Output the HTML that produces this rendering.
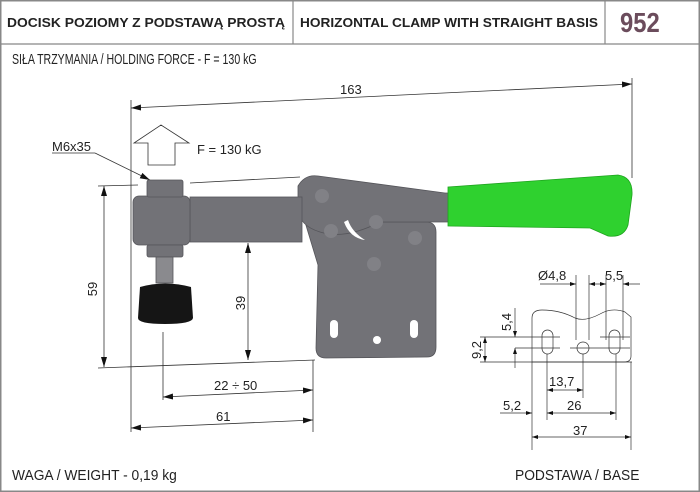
<!DOCTYPE html>
<html><head><meta charset="utf-8"><style>
html,body{margin:0;padding:0;background:#fff}
svg{display:block}
text{font-family:"Liberation Sans",sans-serif;fill:#222}
</style></head><body>
<svg width="700" height="492" viewBox="0 0 700 492" xmlns="http://www.w3.org/2000/svg">
<defs>
<marker id="a" viewBox="0 0 10 6" refX="10" refY="3" markerWidth="10" markerHeight="6" orient="auto-start-reverse" markerUnits="userSpaceOnUse"><path d="M0,0L10,3L0,6z" fill="#111"/></marker>
<marker id="s" viewBox="0 0 6 4" refX="6" refY="2" markerWidth="6" markerHeight="4" orient="auto-start-reverse" markerUnits="userSpaceOnUse"><path d="M0,0L6,2L0,4z" fill="#111"/></marker>
</defs>
<rect x="0.75" y="0.75" width="698.5" height="490.5" fill="#fff" stroke="#888" stroke-width="1.5"/>
<line x1="0" y1="44" x2="700" y2="44" stroke="#888" stroke-width="1.2"/>
<line x1="293" y1="0" x2="293" y2="44" stroke="#888" stroke-width="1.2"/>
<line x1="605" y1="0" x2="605" y2="44" stroke="#888" stroke-width="1.2"/>
<text x="7" y="27" font-size="13" font-weight="bold" textLength="278" lengthAdjust="spacingAndGlyphs">DOCISK POZIOMY Z PODSTAWĄ PROSTĄ</text>
<text x="300" y="27" font-size="13" font-weight="bold" textLength="298" lengthAdjust="spacingAndGlyphs">HORIZONTAL CLAMP WITH STRAIGHT BASIS</text>
<text transform="translate(620,32) scale(0.85,1)" font-size="28" font-weight="bold" style="fill:#6b4c5c">952</text>
<text transform="translate(12,64) scale(0.73,1)" font-size="14.5">SIŁA TRZYMANIA / HOLDING FORCE - F = 130 kG</text>
<text transform="translate(12,480) scale(0.92,1)" font-size="15">WAGA / WEIGHT - 0,19 kg</text>
<text transform="translate(515,480) scale(0.92,1)" font-size="15">PODSTAWA / BASE</text>

<g stroke="#333" stroke-width="0.8" fill="none">
<line x1="131" y1="100" x2="131" y2="432"/>
<line x1="632" y1="78" x2="632" y2="178"/>
<line x1="131" y1="108" x2="632" y2="84" marker-start="url(#a)" marker-end="url(#a)"/>
<line x1="98" y1="186" x2="138" y2="185"/>
<line x1="190" y1="183" x2="300" y2="177"/>
<line x1="104" y1="186" x2="104" y2="367" marker-start="url(#a)" marker-end="url(#a)"/>
<line x1="98" y1="368" x2="315" y2="360"/>
<line x1="248" y1="243" x2="248" y2="360" marker-start="url(#a)" marker-end="url(#a)"/>
<line x1="163" y1="332" x2="163" y2="400"/>
<line x1="313" y1="360" x2="313" y2="432"/>
<line x1="163" y1="397" x2="313" y2="390" marker-start="url(#a)" marker-end="url(#a)"/>
<line x1="131" y1="428" x2="313" y2="420" marker-start="url(#a)" marker-end="url(#a)"/>
<line x1="52" y1="153" x2="95" y2="153"/>
<line x1="95" y1="153" x2="150" y2="180" marker-end="url(#a)"/>
<path d="M148,165 V143 H134 L161,125 L189,143 H175 V165 Z" fill="#fff"/>
</g>
<text x="340" y="94" font-size="13">163</text>
<text x="52" y="151" font-size="13">M6x35</text>
<text x="197" y="154" font-size="13">F = 130 kG</text>
<text x="97" y="289" font-size="13" transform="rotate(-90 97 289)" text-anchor="middle">59</text>
<text x="245" y="303" font-size="13" transform="rotate(-90 245 303)" text-anchor="middle">39</text>
<text x="214" y="390" font-size="13">22 ÷ 50</text>
<text x="216" y="421" font-size="13">61</text>

<g fill="#727277" stroke="#55555a" stroke-width="0.8">
<path d="M305,222 L318,265 L316,348 Q316,358 326,358 L427,357 Q436,357 436,347 L436,232 Q436,222 426,222 Z"/>
<path d="M298,186 Q305,174 318,176 L445,193 L450,193 L450,222 L445,222 L380,222 Q345,240 320,232 Q300,226 298,210 Z"/>
<rect x="190" y="197" width="112" height="45"/>
<rect x="133" y="196" width="57" height="49" rx="6"/>
<rect x="147" y="180" width="36" height="17" rx="2"/>
<rect x="147" y="245" width="36" height="12" rx="2"/>
<rect x="156" y="257" width="17" height="26" fill="#8a8a8e"/>
</g>
<g fill="#818186">
<circle cx="322" cy="196" r="7"/><circle cx="376" cy="222" r="7"/><circle cx="331" cy="231" r="7"/>
<circle cx="415" cy="238" r="7"/><circle cx="374" cy="264" r="7"/>
</g>
<path d="M344,222 Q350,238 365,240 Q352,232 348,220 Z" fill="#fff"/>
<rect x="330" y="320" width="8" height="18" rx="4" fill="#fff"/>
<rect x="410" y="320" width="8" height="18" rx="4" fill="#fff"/>
<circle cx="377" cy="340" r="4" fill="#fff"/>
<path d="M140,287 Q165,280 191,287 L193,318 Q192,324 165,324 Q138,324 138,318 Z" fill="#151515"/>
<path d="M448,187 L618,175 Q633,177 632,195 L628,225 Q624,238 608,236 L590,228 L448,226 Z" fill="#2fd12f" stroke="#1ea31e" stroke-width="0.8"/>

<g stroke="#333" stroke-width="0.7" fill="none">
<path d="M532,362 V318 Q532,310 542,310 Q560,310 575,318 Q585,322 600,314 Q612,307 625,312 L631,317 V356 Q631,362 624,362 Z"/>
<rect x="542" y="330" width="11" height="24" rx="5.5"/>
<rect x="609" y="330" width="11" height="24" rx="5.5"/>
<circle cx="583" cy="348" r="6"/>
<line x1="576" y1="275" x2="576" y2="340"/><line x1="589" y1="275" x2="589" y2="340"/>
<line x1="606" y1="275" x2="606" y2="340"/><line x1="623" y1="275" x2="623" y2="340"/>
<line x1="540" y1="284" x2="576" y2="284" marker-end="url(#s)"/>
<line x1="589" y1="284" x2="606" y2="284" marker-start="url(#s)" marker-end="url(#s)"/>
<line x1="623" y1="284" x2="640" y2="284" marker-start="url(#s)"/>
<line x1="480" y1="337" x2="560" y2="337"/><line x1="515" y1="348" x2="560" y2="348"/>
<line x1="600" y1="337" x2="630" y2="337"/><line x1="570" y1="348" x2="630" y2="348"/>
<line x1="480" y1="362" x2="632" y2="362"/>
<line x1="515" y1="308" x2="515" y2="337" marker-end="url(#s)"/>
<line x1="515" y1="348" x2="515" y2="368" marker-start="url(#s)"/>
<line x1="485" y1="337" x2="485" y2="362" marker-start="url(#s)" marker-end="url(#s)"/>
<line x1="547" y1="354" x2="547" y2="420"/><line x1="583" y1="354" x2="583" y2="398"/>
<line x1="616" y1="354" x2="616" y2="420"/>
<line x1="532" y1="362" x2="532" y2="450"/><line x1="631" y1="362" x2="631" y2="450"/>
<line x1="547" y1="390" x2="583" y2="390" marker-start="url(#s)" marker-end="url(#s)"/>
<line x1="547" y1="413" x2="616" y2="413" marker-start="url(#s)" marker-end="url(#s)"/>
<line x1="500" y1="413" x2="532" y2="413" marker-end="url(#s)"/>
<line x1="532" y1="437" x2="631" y2="437" marker-start="url(#s)" marker-end="url(#s)"/>
</g>
<g font-size="13">
<text x="538" y="280">Ø4,8</text><text x="605" y="280">5,5</text>
<text x="511" y="322" transform="rotate(-90 511 322)" text-anchor="middle">5,4</text>
<text x="481" y="350" transform="rotate(-90 481 350)" text-anchor="middle">9,2</text>
<text x="549" y="386">13,7</text><text x="567" y="410">26</text>
<text x="503" y="410">5,2</text><text x="573" y="435">37</text>
</g>
</svg>
</body></html>
